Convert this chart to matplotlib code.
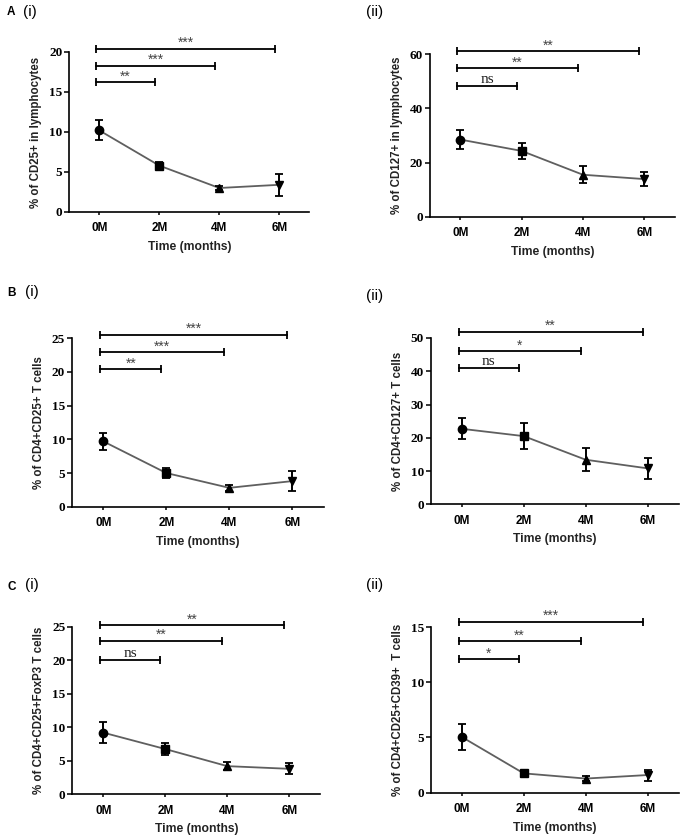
import matplotlib
matplotlib.use("Agg")
import matplotlib.pyplot as plt

# ---------------- data ----------------
time_labels = ["0M", "2M", "4M", "6M"]
markers = ["o", "s", "^", "v"]

a1_mean = [10.2, 5.8, 3.0, 3.4]
a1_err = [1.25, 0.4, 0.3, 1.4]
a1_sig = ["**", "***", "***"]
a1_sig_level = [16.2, 18.3, 20.4]

a2_mean = [28.5, 24.3, 15.5, 13.9]
a2_err = [3.5, 2.9, 3.2, 2.6]
a2_sig = ["ns", "**", "**"]
a2_sig_level = [48.3, 54.8, 61.2]

b1_mean = [9.7, 5.0, 2.8, 3.8]
b1_err = [1.3, 0.7, 0.4, 1.5]
b1_sig = ["**", "***", "***"]
b1_sig_level = [20.4, 22.9, 25.5]

b2_mean = [22.7, 20.5, 13.4, 10.8]
b2_err = [3.2, 3.8, 3.4, 3.1]
b2_sig = ["ns", "*", "**"]
b2_sig_level = [41.0, 46.1, 51.9]

c1_mean = [9.2, 6.75, 4.2, 3.8]
c1_err = [1.6, 0.95, 0.6, 0.8]
c1_sig = ["ns", "**", "**"]
c1_sig_level = [20.1, 22.9, 25.25]

c2_mean = [5.05, 1.75, 1.28, 1.6]
c2_err = [1.2, 0.15, 0.22, 0.5]
c2_sig = ["*", "**", "***"]
c2_sig_level = [12.1, 13.7, 15.48]

ylabels = ["% of CD25+ in lymphocytes", "% of CD127+ in lymphocytes",
           "% of CD4+CD25+ T cells", "% of CD4+CD127+ T cells",
           "% of CD4+CD25+FoxP3 T cells", "% of CD4+CD25+CD39+  T cells"]
yticks_list = [[0, 5, 10, 15, 20], [0, 20, 40, 60],
               [0, 5, 10, 15, 20, 25], [0, 10, 20, 30, 40, 50],
               [0, 5, 10, 15, 20, 25], [0, 5, 10, 15]]
xlabel = "Time (months)"

W, H = 682, 840
fig = plt.figure(figsize=(W / 100, H / 100), dpi=100)

# axes rects in pixels: (x of 0M, x of 6M, top, bottom)
rects = [(99.3, 279.3, 52, 212), (460.3, 644.3, 54.3, 216.7),
         (103.3, 292.3, 338.3, 506.7), (461.7, 647.7, 338, 504.3),
         (103.3, 289.3, 626.7, 794.3), (461.7, 647.7, 627, 792.7)]

panels = [(a1_mean, a1_err, a1_sig, a1_sig_level),
          (a2_mean, a2_err, a2_sig, a2_sig_level),
          (b1_mean, b1_err, b1_sig, b1_sig_level),
          (b2_mean, b2_err, b2_sig, b2_sig_level),
          (c1_mean, c1_err, c1_sig, c1_sig_level),
          (c2_mean, c2_err, c2_sig, c2_sig_level)]

sans = "Liberation Sans"
serif = "Liberation Serif"

for i, ((mean, err, sig, lev), (x0, x6, top, bot)) in enumerate(zip(panels, rects)):
    sp = (x6 - x0) / 3
    left = x0 - 0.5 * sp
    right = x6 + 0.5 * sp
    ax = fig.add_axes([left / W, 1 - bot / H, (right - left) / W, (bot - top) / H])
    xs = list(range(len(time_labels)))
    ax.plot(xs, mean, color="#5f5f5f", lw=1.3, zorder=2)
    for x, m, e, mk in zip(xs, mean, err, markers):
        ax.errorbar([x], [m], yerr=[e], fmt=mk, color="black", ms=6,
                    capsize=3, capthick=1.3, elinewidth=1.4, zorder=3)
    yt = yticks_list[i]
    ax.set_ylim(0, yt[-1])
    ax.set_xlim(-0.5, 3.5)
    ax.set_yticks(yt)
    ax.set_yticklabels([str(v) for v in yt], fontfamily=serif,
                       fontweight="bold", fontsize=9.5)
    ax.set_xticks(xs)
    ax.set_xticklabels(time_labels, fontfamily=sans, fontweight="bold",
                       fontsize=8.5)
    ax.tick_params(axis="y", length=3.5, width=1.1, pad=1.5)
    ax.tick_params(axis="x", length=2.5, width=1.1, pad=5)
    for s in ["top", "right"]:
        ax.spines[s].set_visible(False)
    for s in ["left", "bottom"]:
        ax.spines[s].set_linewidth(1.2)
    # significance bars
    for k, (lab, y) in enumerate(zip(sig, lev), start=1):
        xa, xb = -0.05, k - 0.08
        ax.plot([xa, xb], [y, y], color="black", lw=1.3, marker="|",
                ms=6, mew=1.3, clip_on=False, zorder=4)
        if lab == "ns":
            ax.annotate(lab, ((xa + xb) / 2, y), xytext=(0, 2.0),
                        textcoords="offset points", ha="center", va="baseline",
                        fontsize=11, fontfamily=serif, color="#222222",
                        annotation_clip=False)
        else:
            ax.annotate(lab, ((xa + xb) / 2, y), xytext=(0, 1.2),
                        textcoords="offset points", ha="center", va="baseline",
                        fontsize=10, fontfamily=sans,
                        color="#444444", annotation_clip=False)
    # y label
    fig.text((left - 33) / W, 1 - (top + bot) / 2 / H, ylabels[i],
             rotation=90, ha="center", va="center", fontsize=8.3,
             fontweight="bold", fontfamily=sans, color="#222222")
    # x label
    fig.text((left + right) / 2 / W, 1 - (bot + 35) / H, xlabel,
             ha="center", va="center", fontsize=8.7, fontweight="bold",
             fontfamily=sans, color="#222222")

# panel tags
letters = [("A", 7, 12), ("B", 7, 293), ("C", 7, 587)]
for t, x, y in letters:
    fig.text(x / W, 1 - y / H, t, ha="left", va="center", fontsize=8.5,
             fontweight="bold", fontfamily=sans)
subtags = [("(i)", 23, 12), ("(ii)", 366, 12), ("(i)", 25, 292),
           ("(ii)", 366, 296), ("(i)", 25, 585), ("(ii)", 366, 585)]
for t, x, y in subtags:
    fig.text(x / W, 1 - y / H, t, ha="left", va="center", fontsize=11,
             fontfamily=sans)

fig.savefig("out.png", dpi=100)
